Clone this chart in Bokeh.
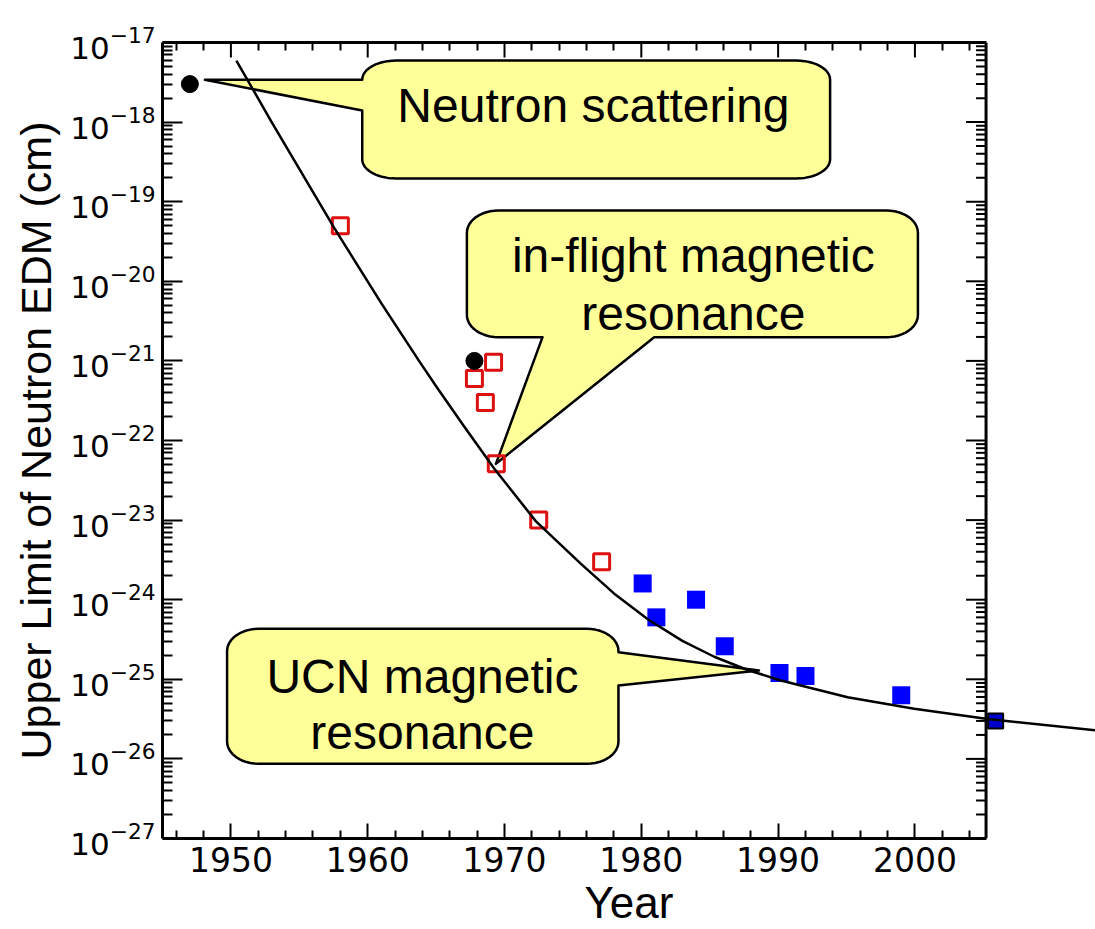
import math
from bokeh.plotting import figure
from bokeh.models import FixedTicker, LinearAxis, Span, Range1d, LogTickFormatter
from bokeh.embed import file_html
from bokeh.resources import INLINE
from bokeh.core.properties import value

# ---------------- data ----------------
scatter_year = [1947.0, 1967.8]            # neutron scattering (black dots)
scatter_edm = [3.0e-18, 1.0e-21]

flight_year = [1958.0, 1967.8, 1968.6, 1969.2, 1969.4, 1972.5, 1977.1]   # in-flight MR (open red)
flight_edm = [5.0e-20, 6.0e-22, 3.0e-22, 9.6e-22, 5.1e-23, 1.0e-23, 3.0e-24]

ucn_year = [1980.1, 1981.1, 1984.0, 1986.1, 1990.1, 1992.0, 1999.0]      # UCN MR (blue)
ucn_edm = [1.6e-24, 6.0e-25, 1.0e-24, 2.6e-25, 1.2e-25, 1.1e-25, 6.3e-26]

latest_year = [2005.9]
latest_edm = [3.0e-26]

# trend curve
fit_year = [1950.4, 1953.0, 1957.55, 1961.0, 1963.74, 1965.0, 1967.0, 1969.23, 1972.3,
            1975.59, 1978.0, 1980.5, 1983.0, 1985.33, 1987.77, 1990.2, 1995.08,
            1999.95, 2005.19, 2013.23]
fit_edm = [5.94e-18, 9.84e-19, 4.68e-20, 5.27e-21, 1.007e-21, 4.81e-22, 1.54e-22,
           4.49e-23, 9.64e-24, 2.82e-24, 1.20e-24, 5.65e-25, 3.04e-25, 1.92e-25,
           1.31e-25, 9.66e-26, 5.96e-26, 4.26e-26, 3.19e-26, 2.28e-26]

x_ticks = [1950, 1960, 1970, 1980, 1990, 2000]
x_minor = [1946, 1948, 1952, 1954, 1956, 1958, 1962, 1964, 1966, 1968, 1972, 1974,
           1976, 1978, 1982, 1984, 1986, 1988, 1992, 1994, 1996, 1998, 2002, 2004]
decades = list(range(-27, -16))
x_title = "Year"
y_title = "Upper Limit of Neutron EDM (cm)"

CALLOUTS = [
    dict(lines=["Neutron scattering"], x0=1959.6, x1=1993.8, top=-17.226, bot=-18.709,
         rx=2.5, ry=0.24, side="left", base=(-17.469, -17.854), tip=(1948.1, -17.469),
         tx=1976.5, ty=[-17.79]),
    dict(lines=["in-flight magnetic", "resonance"], x0=1967.25, x1=2000.22, top=-19.111,
         bot=-20.702, rx=2.3, ry=0.28, side="bottom", base=(1972.78, 1980.94),
         tip=(1969.37, -22.293), tx=1983.8, ty=[-19.674, -20.403]),
    dict(lines=["UCN magnetic", "resonance"], x0=1949.72, x1=1978.33, top=-24.366,
         bot=-26.061, rx=2.3, ry=0.28, side="right", base=(-24.659, -25.078),
         tip=(1988.6, -24.889), tx=1964.0, ty=[-24.959, -25.663]),
]

X_LO, X_HI, X_FRAME_END = 1945.0, 2013.2, 2005.2
Y_LO, Y_HI = 1e-27, 1e-17

major_y = [10.0 ** k for k in decades]
minor_y = [m * 10.0 ** k for k in decades[:-1] for m in range(2, 10)]

p = figure(width=1095, height=929, x_range=Range1d(X_LO, X_HI),
           y_range=Range1d(Y_LO, Y_HI), y_axis_type="log",
           output_backend="svg", toolbar_location=None, tools="",
           min_border_left=162, min_border_right=0, min_border_top=42,
           min_border_bottom=91)
p.outline_line_color = None
p.background_fill_color = "white"
p.border_fill_color = "white"
p.xgrid.visible = False
p.ygrid.visible = False


def style_axis(ax):
    ax.axis_line_width = 3
    ax.axis_line_color = "black"
    ax.major_tick_out = 0
    ax.minor_tick_out = 0
    ax.major_tick_line_width = 2
    ax.minor_tick_line_width = 2
    ax.major_tick_line_color = "black"
    ax.minor_tick_line_color = "black"


# bottom axis
xa = p.xaxis[0]
xa.ticker = FixedTicker(ticks=x_ticks, minor_ticks=x_minor)
xa.bounds = (X_LO, X_FRAME_END)
style_axis(xa)
xa.major_tick_in = 15
xa.minor_tick_in = 8
xa.major_label_text_font = "DejaVu Sans"
xa.major_label_text_font_size = "33px"
xa.major_label_text_color = "black"
xa.major_label_standoff = 8
xa.axis_label = x_title
xa.axis_label_text_font = "Liberation Sans"
xa.axis_label_text_font_size = "44px"
xa.axis_label_text_font_style = "normal"
xa.axis_label_text_color = "black"
xa.axis_label_text_line_height = 0.75
xa.axis_label_standoff = 3

# top axis: frame line + minor ticks; decade ticks as rays
ta = LinearAxis(ticker=FixedTicker(ticks=[], minor_ticks=x_minor), bounds=(X_LO, X_FRAME_END))
style_axis(ta)
ta.minor_tick_in = 8
p.add_layout(ta, "above")
p.ray(x=x_ticks, y=[Y_HI] * len(x_ticks), length=15, angle=-math.pi / 2,
      length_units="screen", line_color="black", line_width=2)

# left axis: decade ticks with 10^n labels
ya = p.yaxis[0]
ya.ticker = FixedTicker(ticks=major_y, minor_ticks=minor_y)
ya.formatter = LogTickFormatter()
style_axis(ya)
ya.major_tick_in = 20
ya.minor_tick_in = 10
ya.major_label_text_font = "DejaVu Sans"
ya.major_label_text_font_size = "31px"
ya.major_label_text_color = "black"
ya.major_label_standoff = 7
ya.axis_label = y_title
ya.axis_label_text_font = "Liberation Sans"
ya.axis_label_text_font_size = "43px"
ya.axis_label_text_font_style = "normal"
ya.axis_label_text_color = "black"
ya.axis_label_standoff = 7

# right frame edge with inward ticks
p.add_layout(Span(location=X_FRAME_END, dimension="height", line_color="black",
                  line_width=3, level="underlay"))
p.ray(x=[X_FRAME_END] * len(major_y), y=major_y, length=20, angle=math.pi,
      length_units="screen", line_color="black", line_width=2)
p.ray(x=[X_FRAME_END] * len(minor_y), y=minor_y, length=10, angle=math.pi,
      length_units="screen", line_color="black", line_width=2)


# ---------------- callouts ----------------
def callout_path(c, n=12):
    x0, x1, top, bot, rx, ry = c["x0"], c["x1"], c["top"], c["bot"], c["rx"], c["ry"]
    xs, ys = [], []

    def arc(cx, cy, a0, a1):
        for i in range(n + 1):
            t = math.radians(a0 + (a1 - a0) * i / n)
            xs.append(cx + rx * math.cos(t))
            ys.append(cy + ry * math.sin(t))

    side, base, tip = c["side"], c["base"], c["tip"]
    arc(x1 - rx, top - ry, 90, 0)
    if side == "right":
        xs.extend([x1, tip[0], x1]); ys.extend([base[0], tip[1], base[1]])
    arc(x1 - rx, bot + ry, 0, -90)
    if side == "bottom":
        xs.extend([base[1], tip[0], base[0]]); ys.extend([bot, tip[1], bot])
    arc(x0 + rx, bot + ry, -90, -180)
    if side == "left":
        xs.extend([x0, tip[0], x0]); ys.extend([base[1], tip[1], base[0]])
    arc(x0 + rx, top - ry, 180, 90)
    return xs, [10.0 ** v for v in ys]


for c in CALLOUTS:
    cx, cy = callout_path(c)
    p.patch(cx, cy, fill_color="#FFFF99", line_color="black", line_width=2.5,
            line_join="round")

# ---------------- data marks ----------------
p.scatter(flight_year, flight_edm, marker="square", size=16, fill_color=None,
          line_color="#DD1111", line_width=3)
p.scatter(ucn_year, ucn_edm, marker="square", size=18, fill_color="#0000FF",
          line_color=None)
p.scatter(scatter_year, scatter_edm, marker="circle", size=17, fill_color="black",
          line_color="black")
p.scatter(latest_year, latest_edm, marker="square", size=15, fill_color="#0000CC",
          line_color="black", line_width=2)
p.line(fit_year, fit_edm, line_color="black", line_width=2.5, line_join="round")

# callout texts
for c in CALLOUTS:
    p.text(x=[c["tx"]] * len(c["lines"]), y=[10.0 ** v for v in c["ty"]], text=c["lines"],
           text_align="center", text_baseline="alphabetic", text_color="black",
           text_font=value("Liberation Sans"), text_font_size="48px")

open("out.html", "w").write(file_html(p, INLINE))
